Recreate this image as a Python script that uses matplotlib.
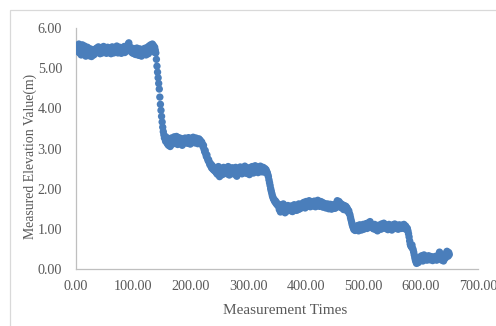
import numpy as np
import matplotlib
matplotlib.use("Agg")
import matplotlib.pyplot as plt
from matplotlib.patches import Rectangle

# ---- data ----
plateau1 = [5.48, 5.55, 5.42, 5.50, 5.60, 5.38, 5.45, 5.52, 5.33, 5.47, 5.58, 5.41, 5.36, 5.49, 5.55, 5.44, 5.30,
            5.46, 5.38, 5.52, 5.35, 5.43, 5.31, 5.40, 5.48, 5.36, 5.29, 5.42, 5.37, 5.45, 5.33, 5.40, 5.47, 5.38,
            5.44, 5.50, 5.39, 5.46, 5.53, 5.41, 5.48, 5.36, 5.45, 5.51, 5.42, 5.38, 5.47, 5.54, 5.40, 5.46, 5.43,
            5.49, 5.37, 5.45, 5.52, 5.41, 5.47, 5.39, 5.50, 5.44, 5.36, 5.48, 5.53, 5.42, 5.46, 5.38, 5.51, 5.45,
            5.40, 5.47, 5.55, 5.43, 5.38, 5.49, 5.44, 5.52, 5.41, 5.46, 5.37, 5.50, 5.45, 5.42, 5.48, 5.54, 5.39,
            5.46, 5.51, 5.43, 5.48, 5.56, 5.60, 5.63, 5.55, 5.47, 5.42, 5.50, 5.45, 5.38, 5.44, 5.49, 5.36, 5.41,
            5.47, 5.34, 5.43, 5.50, 5.39, 5.45, 5.32, 5.41, 5.48, 5.37, 5.44, 5.30, 5.40, 5.46, 5.35, 5.42, 5.49,
            5.38, 5.45, 5.33, 5.51, 5.42, 5.48, 5.36, 5.55, 5.44, 5.50, 5.58, 5.46, 5.53, 5.60, 5.48, 5.56, 5.40,
            5.52, 5.45, 5.38]
drop1 = [5.22, 5.05, 4.90, 4.76, 4.62, 4.48, 4.28, 4.10, 3.95, 3.80, 3.66, 3.53, 3.42, 3.34]
plateau2 = [3.26, 3.30, 3.18,
            3.28, 3.20, 3.12, 3.25, 3.08, 3.18, 3.22, 3.05, 3.15, 3.26, 3.19, 3.11,
            3.23, 3.16, 3.29, 3.21, 3.13, 3.24, 3.30, 3.18, 3.10, 3.22, 3.27, 3.15,
            3.20, 3.12, 3.25, 3.18, 3.08, 3.16, 3.23, 3.19, 3.14, 3.26, 3.21, 3.17,
            3.24, 3.13, 3.20, 3.27, 3.16, 3.22, 3.11, 3.19, 3.25, 3.15, 3.21, 3.28,
            3.18, 3.23, 3.14, 3.20, 3.26, 3.17, 3.22, 3.12, 3.19, 3.24, 3.16, 3.21,
            3.18, 3.14]
drop2 = [3.16, 3.10, 3.05, 3.08, 2.98, 2.92, 2.95, 2.86, 2.80, 2.84, 2.75, 2.70, 2.72, 2.65, 2.60, 2.63,
         2.56, 2.52, 2.58, 2.49, 2.53, 2.46, 2.50, 2.44]
plateau3 = [2.48, 2.40, 2.52, 2.36, 2.45, 2.55, 2.42, 2.30, 2.47, 2.38,
            2.50, 2.44, 2.35, 2.49, 2.53, 2.41, 2.46, 2.39, 2.51, 2.43,
            2.37, 2.48, 2.55, 2.42, 2.34, 2.46, 2.50, 2.40, 2.45, 2.52,
            2.38, 2.44, 2.49, 2.36, 2.47, 2.53, 2.41, 2.31, 2.45, 2.50,
            2.43, 2.39, 2.48, 2.54, 2.42, 2.46, 2.37, 2.51, 2.44, 2.40,
            2.49, 2.56, 2.43, 2.47, 2.38, 2.52, 2.45, 2.41, 2.50, 2.35,
            2.46, 2.53, 2.42, 2.48, 2.55, 2.44, 2.39, 2.51, 2.47, 2.57,
            2.43, 2.50, 2.46, 2.54, 2.40, 2.48, 2.52, 2.44, 2.56, 2.47,
            2.42, 2.51, 2.45, 2.53, 2.48, 2.41, 2.50, 2.44, 2.47, 2.42]
drop3 = [2.40, 2.35, 2.30, 2.22, 2.15, 2.08, 2.00, 1.94, 1.88, 1.82, 1.78, 1.74, 1.72, 1.68, 1.70, 1.64,
         1.66, 1.60, 1.62, 1.58]
plateau4 = [1.55, 1.48, 1.60, 1.42, 1.52, 1.57, 1.45, 1.50, 1.62, 1.47, 1.53, 1.40, 1.49, 1.56, 1.44, 1.51, 1.58, 1.46, 1.54, 1.48,
            1.52, 1.45, 1.57, 1.50, 1.43, 1.55, 1.49, 1.60, 1.47, 1.53, 1.58, 1.46, 1.51, 1.56, 1.48, 1.62, 1.54, 1.50, 1.58, 1.55,
            1.60, 1.53, 1.64, 1.57, 1.66, 1.59, 1.52, 1.63, 1.68, 1.56, 1.61, 1.65, 1.58, 1.70, 1.62, 1.55, 1.66, 1.60, 1.67, 1.63,
            1.57, 1.64, 1.69, 1.61, 1.55, 1.66, 1.62, 1.58, 1.71, 1.60, 1.65, 1.56, 1.63, 1.68, 1.59, 1.62, 1.66, 1.54, 1.61, 1.57,
            1.63, 1.58, 1.52, 1.60, 1.55, 1.62, 1.57, 1.50, 1.59, 1.54, 1.61, 1.56, 1.49, 1.58, 1.53, 1.60, 1.55, 1.51, 1.57, 1.52,
            1.59, 1.65, 1.70, 1.62, 1.56, 1.68, 1.60, 1.54, 1.63, 1.57, 1.52, 1.60, 1.55, 1.48, 1.58, 1.53, 1.50, 1.56, 1.46, 1.52,
            1.48, 1.42, 1.45, 1.38]
drop4 = [1.35, 1.28, 1.22, 1.16, 1.10, 1.06, 1.02, 0.98, 1.03, 0.96, 1.00]
plateau5 = [1.04, 0.98, 1.08, 1.01, 0.95, 1.06, 1.10, 1.00, 1.05, 0.97,
            1.07, 1.03, 1.11, 0.99, 1.05, 1.09, 1.02, 1.13, 1.06, 1.01,
            1.08, 1.15, 1.04, 1.10, 1.18, 1.07, 1.12, 1.03, 1.09, 1.05,
            1.00, 1.07, 1.11, 1.04, 0.98, 1.06, 1.02, 0.95, 1.05, 1.09,
            1.01, 1.07, 1.03, 0.99, 1.12, 1.06, 1.02, 1.08, 1.14, 1.04,
            1.10, 1.01, 1.06, 1.09, 1.03, 0.98, 1.07, 1.11, 1.05, 1.00,
            1.08, 1.04, 0.97, 1.06, 1.10, 1.02, 1.07, 1.12, 1.05, 1.01,
            1.09, 1.04, 1.08, 0.99, 1.06, 1.10, 1.03, 1.07, 1.01, 1.05,
            1.09, 1.02, 1.06, 1.11, 1.04, 1.00, 1.07, 1.03, 0.98, 1.01]
drop5 = [0.95, 0.88, 0.80, 0.70, 0.62, 0.58, 0.55, 0.60, 0.52, 0.48, 0.42, 0.35, 0.28, 0.22, 0.18, 0.14,
         0.20, 0.25, 0.16, 0.22]
plateau6 = [0.25, 0.30, 0.22, 0.28, 0.33, 0.26, 0.20, 0.29, 0.35, 0.27,
            0.24, 0.31, 0.28, 0.22, 0.30, 0.26, 0.33, 0.29, 0.23, 0.27,
            0.31, 0.25, 0.28, 0.21, 0.30, 0.27, 0.24, 0.29, 0.26, 0.32,
            0.22, 0.28, 0.25, 0.30, 0.35, 0.42, 0.38, 0.30, 0.25, 0.22,
            0.28, 0.24, 0.20, 0.26, 0.31, 0.27, 0.35, 0.40, 0.44, 0.38,
            0.32, 0.41, 0.36]

elevation = np.array(plateau1 + drop1 + plateau2 + drop2 + plateau3 + drop3 +
                     plateau4 + drop4 + plateau5 + drop5 + plateau6)
times = np.arange(1, len(elevation) + 1)

x_ticks = [0, 100, 200, 300, 400, 500, 600, 700]
y_ticks = [0, 1, 2, 3, 4, 5, 6]
x_title = "Measurement Times"
y_title = "Measured Elevation Value(m)"

# ---- style ----
plt.rcParams['font.family'] = ['Liberation Serif', 'DejaVu Serif']
text_color = '#595959'
axis_color = '#BFBFBF'
dot_color = '#4A7EBB'

fig = plt.figure(figsize=(4.96, 3.26), dpi=100)
ax = fig.add_axes([76 / 496, 1 - 269 / 326, (478 - 76) / 496, (269 - 28) / 326])

ax.scatter(times, elevation, s=28, color=dot_color, edgecolors='none', zorder=3)

ax.set_xlim(0, 700)
ax.set_ylim(0, 6)
ax.set_xticks(x_ticks)
ax.set_yticks(y_ticks)
ax.xaxis.set_major_formatter(matplotlib.ticker.FormatStrFormatter('%.2f'))
ax.yaxis.set_major_formatter(matplotlib.ticker.FormatStrFormatter('%.2f'))
ax.tick_params(axis='both', length=0, labelsize=10.2, colors=text_color)
ax.tick_params(axis='x', pad=8)
ax.tick_params(axis='y', pad=10)

for side in ['top', 'right']:
    ax.spines[side].set_visible(False)
for side in ['left', 'bottom']:
    ax.spines[side].set_color(axis_color)
    ax.spines[side].set_linewidth(0.9)

fig.text(285 / 496, 1 - 310 / 326, x_title, ha='center', va='center',
         fontsize=11, color=text_color)
fig.text(30 / 496, 1 - 156.5 / 326, y_title, rotation=90, ha='center', va='center',
         fontsize=9.9, color=text_color)

# outer chart border (cropped at right/bottom)
fig.add_artist(Rectangle((10 / 496, -0.2), 1.2, 1.2 - 10 / 326, transform=fig.transFigure,
                         fill=False, edgecolor='#D9D9D9', linewidth=0.9))

fig.savefig('out.png', dpi=100)
